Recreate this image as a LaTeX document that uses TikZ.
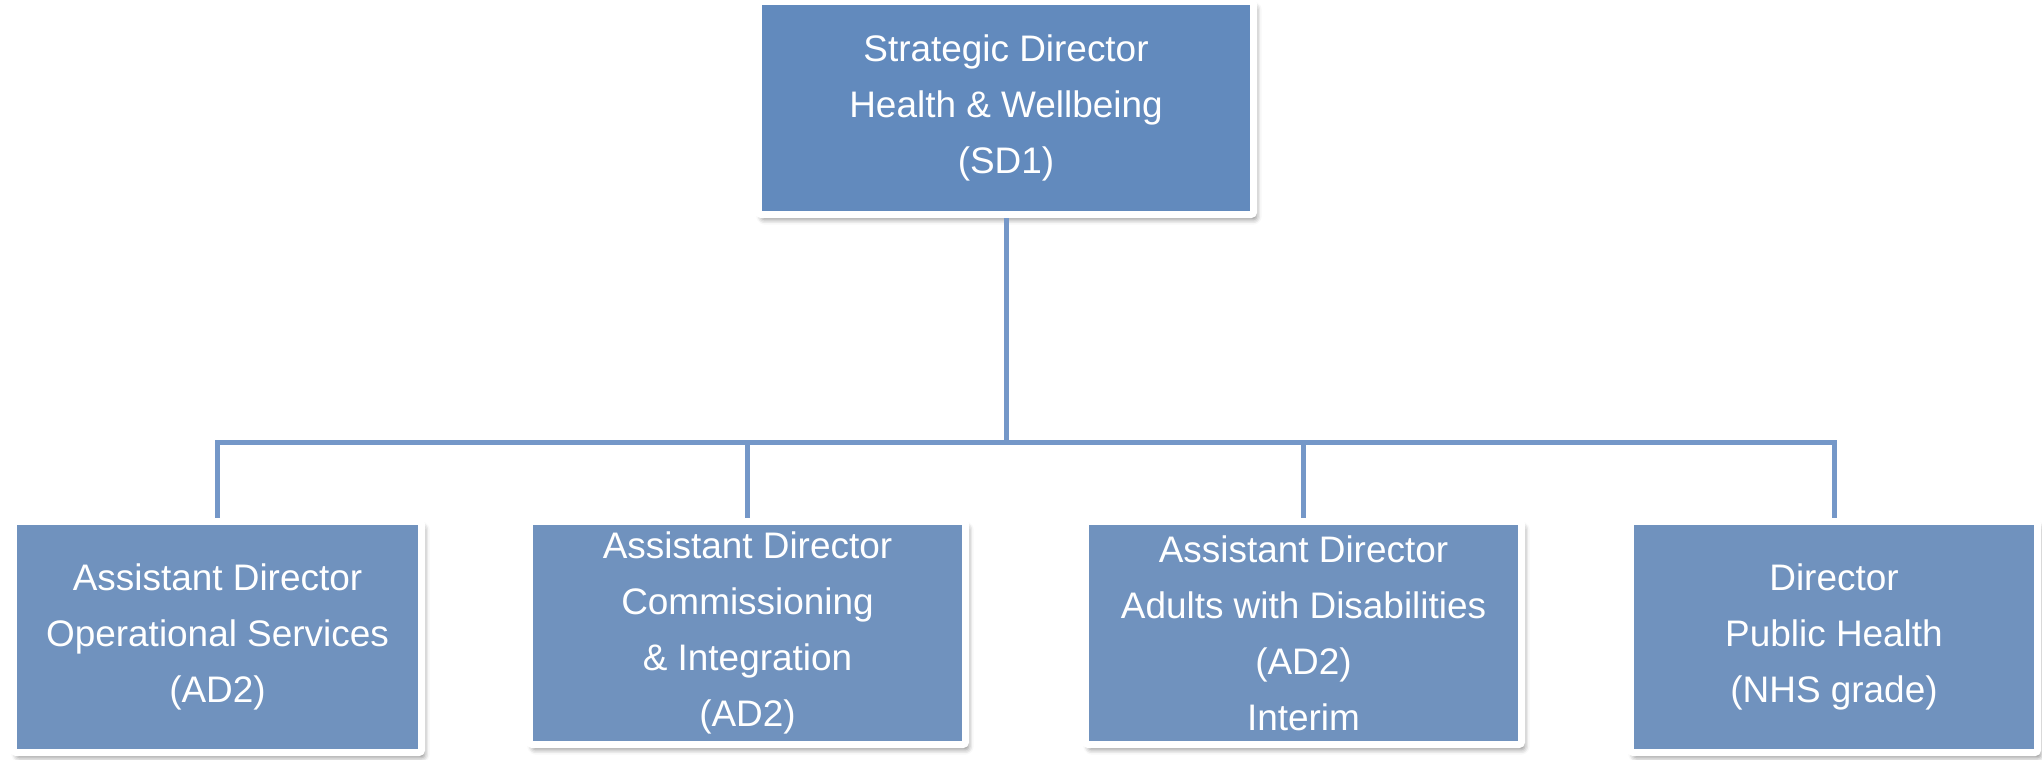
\documentclass[tikz,border=0pt]{standalone}
\usepackage{fontspec}
\setmainfont{Liberation Sans}
\usetikzlibrary{shadows.blur}
\definecolor{topblue}{RGB}{98,138,189}
\definecolor{boxblue}{RGB}{112,146,190}
\definecolor{linkblue}{RGB}{116,151,200}
\tikzset{
  orgbox/.style={rectangle, draw=white, line width=0.07cm, rounded corners=0.03cm,
    fill=boxblue, text=white, inner sep=0pt, align=center,
    font=\fontsize{10.5pt}{15.9pt}\selectfont,
    blur shadow={shadow xshift=0.03cm, shadow yshift=-0.05cm, shadow blur radius=0.05cm, shadow opacity=45}},
  link/.style={draw=linkblue, line width=0.05cm}
}
\begin{document}
\begin{tikzpicture}[x=0.01cm, y=-0.01cm]
\useasboundingbox (0,0) rectangle (2042,759);
\node[orgbox, fill=topblue, minimum width=4.95cm, minimum height=2.13cm] (top) at (1006,108)
  {Strategic Director\\Health \& Wellbeing\\(SD1)};
\node[orgbox, minimum width=4.08cm, minimum height=2.31cm] (b1) at (217.5,637)
  {Assistant Director\\Operational Services\\(AD2)};
\node[orgbox, minimum width=4.36cm, minimum height=2.23cm] (b2) at (747.5,633)
  {Assistant Director\\Commissioning\\\& Integration\\(AD2)};
\node[orgbox, minimum width=4.36cm, minimum height=2.23cm] (b3) at (1303.5,633)
  {Assistant Director\\Adults with Disabilities\\(AD2)\\Interim};
\node[orgbox, minimum width=4.07cm, minimum height=2.31cm] (b4) at (1834,637)
  {Director\\Public Health\\(NHS grade)};
\coordinate (bus) at (1006,442);
\draw[link] (top.south) -- (bus);
\draw[link] (b1.north) |- (bus) -| (b4.north);
\draw[link] (b2.north) -- (b2.north |- bus);
\draw[link] (b3.north) -- (b3.north |- bus);
\end{tikzpicture}
\end{document}
